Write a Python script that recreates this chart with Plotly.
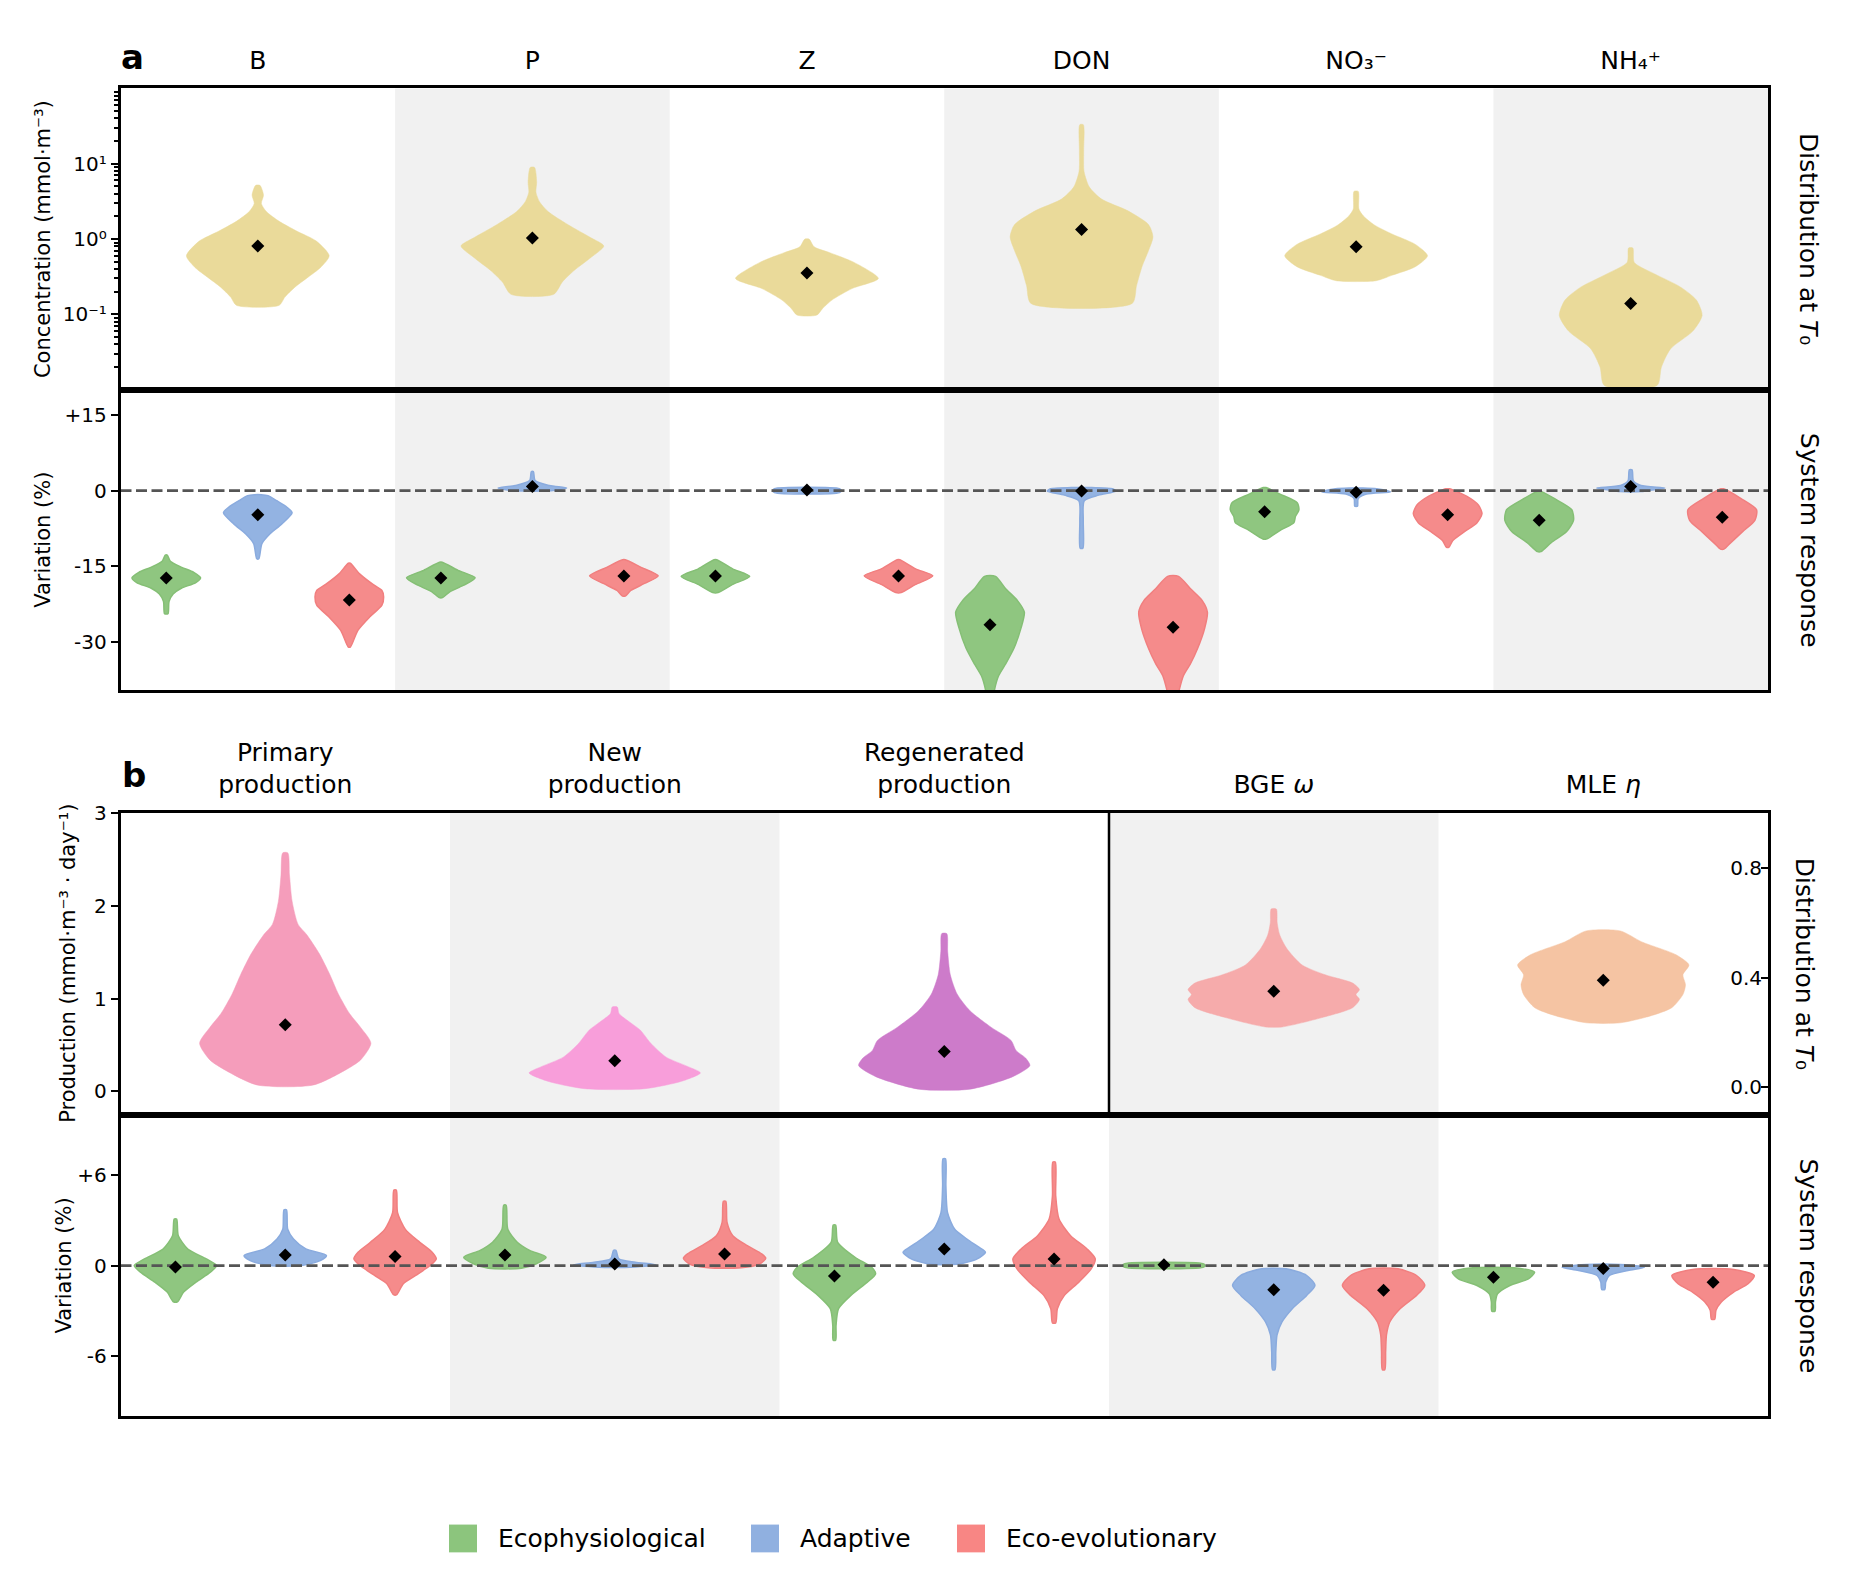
import plotly.graph_objects as go

# ---------------- data ----------------
a_labels = ["B", "P", "Z", "DON", "NO₃⁻", "NH₄⁺"]
b_labels = ["Primary<br>production", "New<br>production", "Regenerated<br>production",
            "BGE <i>ω</i>", "MLE <i>η</i>"]
group_names = ["Ecophysiological", "Adaptive", "Eco-evolutionary"]

# panel a, top: concentration at T0 (value levels, relative half-widths of the density)
conc_levels = [
    [0.132, 0.17, 0.23, 0.31, 0.42, 0.60, 0.94, 1.27, 1.72, 2.32, 2.97, 3.83, 5.17],
    [0.185, 0.27, 0.38, 0.57, 0.81, 1.04, 1.55, 2.32, 3.13, 4.2, 5.7, 8.95],
    [0.098, 0.12, 0.155, 0.22, 0.30, 0.49, 0.66, 0.79, 1.0],
    [0.14, 0.24, 0.44, 0.71, 1.07, 1.55, 2.37, 3.4, 4.9, 7.9, 15, 33],
    [0.28, 0.33, 0.43, 0.60, 0.85, 1.17, 1.55, 2.04, 2.5, 4.3],
    [0.0114, 0.02, 0.035, 0.06, 0.097, 0.155, 0.23, 0.35, 0.49, 0.76],
]
conc_widths = [
    [0.30, 0.38, 0.52, 0.70, 0.88, 1.0, 0.82, 0.55, 0.30, 0.12, 0.05, 0.08, 0.03],
    [0.30, 0.42, 0.58, 0.82, 1.0, 0.82, 0.5, 0.22, 0.1, 0.05, 0.06, 0.03],
    [0.14, 0.22, 0.35, 0.63, 1.0, 0.66, 0.32, 0.1, 0.03],
    [0.71, 0.77, 0.85, 0.94, 1.0, 0.94, 0.65, 0.28, 0.11, 0.035, 0.03, 0.025],
    [0.28, 0.5, 0.83, 1.0, 0.83, 0.5, 0.25, 0.1, 0.04, 0.03],
    [0.37, 0.43, 0.56, 0.87, 1.0, 0.92, 0.7, 0.32, 0.05, 0.03],
]
conc_means = [0.81, 1.03, 0.355, 1.34, 0.79, 0.14]
conc_ticks = [0.1, 1, 10]
conc_ticktext = ["10⁻¹", "10⁰", "10¹"]

# panel a, bottom: variation (%)
a_eco_levels = [
    [-24.4, -22, -20.5, -19.3, -18.3, -17.3, -16.2, -15.2, -14, -12.8],
    [-21.2, -20.1, -18.8, -17.3, -15.8, -14.2],
    [-20.2, -18.6, -17.0, -15.5, -13.7],
    [-42, -39.5, -36.7, -34.4, -31.2, -27.3, -24.1, -21.8, -19.4, -17.0],
    [-9.6, -7.7, -6.4, -5.1, -3.8, -2.4, -0.7, 0.6],
    [-12.1, -10.3, -8.1, -5.9, -3.8, -1.6, -0.1],
]
a_eco_widths = [
    [0.05, 0.08, 0.2, 0.45, 0.85, 1.0, 0.8, 0.45, 0.12, 0.03],
    [0.05, 0.25, 0.65, 1.0, 0.5, 0.04],
    [0.08, 0.5, 1.0, 0.5, 0.04],
    [0.08, 0.13, 0.25, 0.45, 0.7, 0.9, 1.0, 0.8, 0.45, 0.16],
    [0.05, 0.5, 0.85, 0.9, 1.0, 0.95, 0.45, 0.04],
    [0.05, 0.35, 0.8, 1.0, 0.95, 0.45, 0.04],
]
a_eco_means = [-17.3, -17.3, -16.9, -26.6, -4.2, -5.9]

a_adp_levels = [
    [-13.5, -10.5, -8.6, -6.6, -4.4, -3.3, -2.0, -1.0, -0.8],
    [-0.1, 0.0, 0.5, 1.0, 2.0, 3.75],
    [-0.4, 0.0, 0.4],
    [-11.4, -6, -2, -0.9, -0.1, 0.4, 0.6],
    [-3.1, -1.6, -0.7, -0.25, 0.35, 0.5],
    [-0.2, 0.0, 0.5, 1.0, 1.9, 4.1],
]
a_adp_widths = [
    [0.03, 0.12, 0.35, 0.7, 1.0, 0.85, 0.55, 0.3, 0.1],
    [0.3, 0.6, 1.0, 0.5, 0.08, 0.03],
    [0.95, 1.0, 0.95],
    [0.04, 0.05, 0.08, 0.5, 1.0, 0.9, 0.3],
    [0.04, 0.06, 0.3, 1.0, 0.6, 0.2],
    [0.3, 0.5, 1.0, 0.3, 0.08, 0.04],
]
a_adp_means = [-4.8, 0.8, 0.1, -0.1, -0.35, 0.8]

a_evo_levels = [
    [-31, -27.7, -25, -22.7, -21.1, -19.8, -18.4, -16.5, -14.4],
    [-20.9, -19.8, -18.4, -16.9, -15.2, -13.7],
    [-20.2, -18.6, -16.9, -15.5, -13.7],
    [-42, -39.5, -36.7, -34.4, -31.2, -27.3, -24.1, -21.8, -19.4, -17.0],
    [-11.2, -9.9, -8.1, -6.4, -4.6, -2.9, -1.1, 0.35],
    [-11.6, -10.3, -8.1, -5.9, -3.8, -1.6, 0.35],
]
a_evo_widths = [
    [0.03, 0.25, 0.6, 0.95, 1.0, 0.95, 0.65, 0.3, 0.03],
    [0.04, 0.2, 0.6, 1.0, 0.5, 0.04],
    [0.08, 0.5, 1.0, 0.5, 0.04],
    [0.1, 0.18, 0.3, 0.5, 0.72, 0.92, 1.0, 0.85, 0.5, 0.16],
    [0.04, 0.15, 0.5, 0.85, 1.0, 0.9, 0.55, 0.05],
    [0.05, 0.25, 0.6, 0.95, 1.0, 0.55, 0.04],
]
a_evo_means = [-21.7, -16.9, -16.9, -27.1, -4.8, -5.3]

# panel b, top: production (first three, left axis) and efficiencies (last two, right axis)
prod_levels = [
    [0.07, 0.23, 0.34, 0.52, 0.69, 0.84, 1.05, 1.26, 1.48, 1.69, 1.8, 2.05, 2.33, 2.57],
    [0.03, 0.11, 0.2, 0.27, 0.37, 0.52, 0.66, 0.73, 0.84, 0.91],
    [0.025, 0.16, 0.28, 0.36, 0.44, 0.55, 0.69, 0.87, 1.05, 1.26, 1.51, 1.70],
    [0.22, 0.253, 0.29, 0.32, 0.338, 0.356, 0.38, 0.41, 0.446, 0.507, 0.555, 0.60, 0.65],
    [0.235, 0.26, 0.29, 0.338, 0.374, 0.41, 0.446, 0.483, 0.53, 0.57],
]
prod_widths = [
    [0.33, 0.7, 0.88, 1.0, 0.88, 0.75, 0.62, 0.52, 0.4, 0.25, 0.15, 0.08, 0.05, 0.03],
    [0.35, 0.78, 1.0, 0.85, 0.6, 0.42, 0.3, 0.2, 0.05, 0.03],
    [0.3, 0.8, 1.0, 0.95, 0.84, 0.78, 0.55, 0.3, 0.15, 0.07, 0.04, 0.03],
    [0.1, 0.55, 0.92, 1.0, 0.96, 1.0, 0.92, 0.6, 0.33, 0.15, 0.07, 0.04, 0.03],
    [0.2, 0.55, 0.8, 0.93, 0.96, 0.93, 1.0, 0.85, 0.45, 0.2],
]
prod_means = [0.72, 0.33, 0.43, 0.35, 0.39]
prod_colors = ["#f59dbb", "#f89eda", "#cd7bca", "#f6abab", "#f5c4a3"]

# panel b, bottom: variation (%)
b_eco_levels = [
    [-2.4, -1.76, -1.1, -0.44, 0, 0.44, 1.1, 1.98, 3.08],
    [-0.18, 0.1, 0.55, 1.0, 1.54, 2.4, 4.0],
    [-4.95, -3.96, -2.86, -1.98, -1.1, -0.55, -0.1, 0.55, 1.54, 2.68],
    [-0.12, 0.0, 0.12],
    [-3.03, -2.42, -1.87, -1.32, -0.88, -0.44, -0.15],
]
b_eco_widths = [
    [0.05, 0.2, 0.5, 0.85, 1.0, 0.75, 0.3, 0.07, 0.03],
    [0.4, 0.75, 1.0, 0.6, 0.3, 0.07, 0.03],
    [0.03, 0.04, 0.1, 0.4, 0.8, 1.0, 0.9, 0.5, 0.08, 0.03],
    [0.95, 1.0, 0.95],
    [0.04, 0.05, 0.1, 0.4, 0.85, 1.0, 0.5],
]
b_eco_means = [-0.1, 0.7, -0.7, 0.05, -0.77]

b_adp_levels = [
    [0.0, 0.33, 0.66, 1.1, 1.76, 2.4, 3.7],
    [-0.09, 0.05, 0.22, 0.44, 1.0],
    [0.1, 0.44, 0.88, 1.2, 1.76, 2.42, 3.5, 5.27, 7.08],
    [-6.9, -5.7, -4.6, -3.74, -2.86, -1.98, -1.32, -0.66, -0.22],
    [-1.58, -1.1, -0.66, -0.33, -0.11, 0.07],
]
b_adp_widths = [
    [0.4, 0.85, 1.0, 0.5, 0.2, 0.06, 0.03],
    [0.5, 1.0, 0.5, 0.1, 0.03],
    [0.35, 0.8, 1.0, 0.85, 0.55, 0.25, 0.08, 0.04, 0.03],
    [0.03, 0.05, 0.08, 0.2, 0.45, 0.8, 1.0, 0.8, 0.3],
    [0.04, 0.06, 0.15, 0.6, 1.0, 0.4],
]
b_adp_means = [0.7, 0.1, 1.1, -1.6, -0.2]

b_evo_levels = [
    [-1.93, -1.2, -0.66, 0.0, 0.44, 0.88, 1.54, 2.4, 3.5, 5.0],
    [-0.15, 0.1, 0.48, 0.77, 1.32, 1.98, 2.86, 4.26],
    [-3.8, -2.86, -1.98, -1.1, -0.22, 0.44, 1.1, 1.98, 3.08, 4.6, 6.86],
    [-6.9, -5.7, -4.6, -3.74, -2.86, -1.98, -1.32, -0.66, -0.22],
    [-3.56, -2.97, -2.42, -1.76, -1.21, -0.66, -0.26],
]
b_evo_widths = [
    [0.04, 0.2, 0.5, 0.85, 1.0, 0.9, 0.6, 0.25, 0.06, 0.03],
    [0.4, 0.85, 1.0, 0.9, 0.55, 0.2, 0.06, 0.03],
    [0.04, 0.08, 0.25, 0.6, 0.9, 1.0, 0.8, 0.4, 0.12, 0.04, 0.03],
    [0.03, 0.05, 0.07, 0.15, 0.4, 0.8, 1.0, 0.8, 0.35],
    [0.04, 0.07, 0.2, 0.5, 0.85, 1.0, 0.5],
]
b_evo_means = [0.6, 0.77, 0.44, -1.63, -1.1]

# ---------------- styling / layout ----------------
W, H = 1853, 1592
OFF = 8  # default page margin of the html body
FONT = "DejaVu Sans"
YELLOW = "rgb(234,218,154)"
FILLS = ["rgb(143,198,128)", "rgb(147,179,226)", "rgb(245,139,139)"]
EDGES = ["rgb(133,191,117)", "rgb(138,171,222)", "rgb(241,127,127)"]
LEGEND_COLORS = ["rgb(140,197,125)", "rgb(144,176,224)", "rgb(248,134,132)"]
SHADE = "#f1f1f1"
OFFSETS = [-1 / 3, 0.0, 1 / 3]
HALF_BIG = 0.26
HALF_SMALL = 0.125


def px_x(p):
    return (p - OFF) / W


def px_y(p):
    return 1 - (p - OFF) / H


X_DOM = [px_x(120.5), px_x(1768)]
A_TOP = [px_y(380.5), px_y(77)]
A_BOT = [px_y(683), px_y(380.5)]
B_TOP = [px_y(1111), px_y(807)]
B_BOT = [px_y(1415), px_y(1111)]

fig = go.Figure()


def add_violin(center, half, levels, widths, fill, edge, xa, ya, lw):
    xs = [center + half * w for w in widths] + [center - half * w for w in reversed(widths)]
    ys = list(levels) + list(reversed(levels))
    xs.append(xs[0])
    ys.append(ys[0])
    fig.add_trace(go.Scatter(
        x=xs, y=ys, xaxis=xa, yaxis=ya, mode="lines", fill="toself",
        fillcolor=fill, line=dict(color=edge, width=lw, shape="spline", smoothing=0.7),
        hoverinfo="skip", showlegend=False))


def add_means(xs, ys, xa, ya):
    fig.add_trace(go.Scatter(
        x=xs, y=ys, xaxis=xa, yaxis=ya, mode="markers",
        marker=dict(symbol="diamond", size=10, color="black"),
        showlegend=False, hoverinfo="skip"))


def add_zero(xa, ya, ncols):
    fig.add_trace(go.Scatter(
        x=[-0.5, ncols - 0.5], y=[0, 0], xaxis=xa, yaxis=ya, mode="lines",
        line=dict(color="#555555", width=2.7, dash="11px,4.5px"),
        showlegend=False, hoverinfo="skip"))


# panel a top
for i in range(len(a_labels)):
    add_violin(i, HALF_BIG, conc_levels[i], conc_widths[i], YELLOW, YELLOW, "x", "y", 0.5)
add_means(list(range(len(a_labels))), conc_means, "x", "y")

# panel a bottom
a_groups = [(a_eco_levels, a_eco_widths, a_eco_means),
            (a_adp_levels, a_adp_widths, a_adp_means),
            (a_evo_levels, a_evo_widths, a_evo_means)]
for g, (lv, wd, _) in enumerate(a_groups):
    for i in range(len(a_labels)):
        add_violin(i + OFFSETS[g], HALF_SMALL, lv[i], wd[i], FILLS[g], EDGES[g], "x2", "y2", 1.5)
add_zero("x2", "y2", len(a_labels))
for g, (_, _, mn) in enumerate(a_groups):
    add_means([i + OFFSETS[g] for i in range(len(a_labels))], mn, "x2", "y2")

# panel b top
for i in range(len(b_labels)):
    ya = "y3" if i < 3 else "y4"
    add_violin(i, HALF_BIG, prod_levels[i], prod_widths[i], prod_colors[i], prod_colors[i], "x3", ya, 0.5)
add_means([0, 1, 2], prod_means[:3], "x3", "y3")
add_means([3, 4], prod_means[3:], "x3", "y4")

# panel b bottom
b_groups = [(b_eco_levels, b_eco_widths, b_eco_means),
            (b_adp_levels, b_adp_widths, b_adp_means),
            (b_evo_levels, b_evo_widths, b_evo_means)]
for g, (lv, wd, _) in enumerate(b_groups):
    for i in range(len(b_labels)):
        add_violin(i + OFFSETS[g], HALF_SMALL, lv[i], wd[i], FILLS[g], EDGES[g], "x4", "y5", 1.5)
add_zero("x4", "y5", len(b_labels))
for g, (_, _, mn) in enumerate(b_groups):
    add_means([i + OFFSETS[g] for i in range(len(b_labels))], mn, "x4", "y5")

# ---------------- axes ----------------
frame = dict(showline=True, mirror=True, linecolor="black", linewidth=2.5,
             showgrid=False, zeroline=False)
tickfont = dict(family=FONT, size=20, color="black")
hfont = dict(family=FONT, size=25, color="black")


def xaxis(anchor, ncols, labels=None):
    d = dict(domain=X_DOM, anchor=anchor, range=[-0.5, ncols - 0.5], ticks="", **frame)
    if labels is None:
        d["showticklabels"] = False
    else:
        d.update(side="top", tickmode="array", tickvals=list(range(ncols)),
                 ticktext=labels, tickfont=hfont, ticklabelstandoff=7)
    return d


def yaxis(anchor, dom, **kw):
    d = dict(domain=dom, anchor=anchor, ticks="outside", ticklen=7, tickwidth=2,
             tickcolor="black", tickfont=tickfont, **frame)
    d.update(kw)
    return d


minor_vals = []
for dec in [0.01, 0.1, 1, 10]:
    for m in range(2, 10):
        minor_vals.append(m * dec)

fig.update_layout(
    width=W, height=H,
    margin=dict(l=0, r=0, t=0, b=0),
    paper_bgcolor="white", plot_bgcolor="white",
    font=dict(family=FONT, size=20, color="black"),
    showlegend=False,
    xaxis=xaxis("y", len(a_labels), a_labels),
    yaxis=yaxis("x", A_TOP, type="log", range=[-2, 2],
                tickmode="array", tickvals=conc_ticks, ticktext=conc_ticktext,
                minor=dict(tickmode="array", tickvals=minor_vals, ticks="outside",
                           ticklen=4, tickwidth=1.5, tickcolor="black", showgrid=False)),
    xaxis2=xaxis("y2", len(a_labels)),
    yaxis2=yaxis("x2", A_BOT, range=[-39.5, 20], tickmode="array",
                 tickvals=[15, 0, -15, -30], ticktext=["+15", "0", "-15", "-30"]),
    xaxis3=xaxis("y3", len(b_labels), b_labels),
    yaxis3=yaxis("x3", B_TOP, range=[-0.25, 3], tickmode="array",
                 tickvals=[0, 1, 2, 3], ticktext=["0", "1", "2", "3"]),
    yaxis4=dict(overlaying="y3", side="right", anchor="x3", range=[-0.1, 1.0],
                tickmode="array", tickvals=[0.0, 0.4, 0.8], ticktext=["0.0", "0.4", "0.8"],
                ticks="inside", ticklen=7, tickwidth=2, tickcolor="black",
                ticklabelposition="inside", tickfont=tickfont,
                showline=False, showgrid=False, zeroline=False),
    xaxis4=xaxis("y5", len(b_labels)),
    yaxis5=yaxis("x4", B_BOT, range=[-10, 10], tickmode="array",
                 tickvals=[6, 0, -6], ticktext=["+6", "0", "-6"]),
)

# ---------------- shapes ----------------
shapes = []
for i in range(1, len(a_labels), 2):
    for xr, yr in [("x", "y domain"), ("x2", "y2 domain")]:
        shapes.append(dict(type="rect", xref=xr, yref=yr, x0=i - 0.5, x1=i + 0.5, y0=0, y1=1,
                           fillcolor=SHADE, line=dict(width=0), layer="below"))
for i in range(1, len(b_labels), 2):
    for xr, yr in [("x3", "y3 domain"), ("x4", "y5 domain")]:
        shapes.append(dict(type="rect", xref=xr, yref=yr, x0=i - 0.5, x1=i + 0.5, y0=0, y1=1,
                           fillcolor=SHADE, line=dict(width=0), layer="below"))
shapes.append(dict(type="line", xref="x3", yref="y3 domain", x0=2.5, x1=2.5, y0=0, y1=1,
                   line=dict(color="black", width=2.5), layer="above"))

# legend patches
legend_x = [449, 751, 957]
legend_text_x = [496, 798, 1004]
for k in range(3):
    shapes.append(dict(type="rect", xref="paper", yref="paper",
                       x0=px_x(legend_x[k]), x1=px_x(legend_x[k] + 28),
                       y0=px_y(1552), y1=px_y(1524),
                       fillcolor=LEGEND_COLORS[k], line=dict(width=0)))
fig.update_layout(shapes=shapes)

# ---------------- annotations ----------------
ann = []
ann.append(dict(x=px_x(132), y=px_y(45), xref="paper", yref="paper", text="<b>a</b>",
                showarrow=False, font=dict(family=FONT, size=34, color="black"),
                xanchor="center", yanchor="middle"))
ann.append(dict(x=px_x(134), y=px_y(769), xref="paper", yref="paper", text="<b>b</b>",
                showarrow=False, font=dict(family=FONT, size=34, color="black"),
                xanchor="center", yanchor="middle"))

tfont = dict(family=FONT, size=21, color="black")
left_titles = [
    (43, (77 + 380.5) / 2, "Concentration (mmol·m⁻³)"),
    (43, (380.5 + 683) / 2, "Variation (%)"),
    (68, (807 + 1111) / 2, "Production (mmol·m⁻³ · day⁻¹)"),
    (64, (1111 + 1415) / 2, "Variation (%)"),
]
for xp, yp, t in left_titles:
    ann.append(dict(x=px_x(xp), y=px_y(yp), xref="paper", yref="paper", text=t,
                    textangle=-90, showarrow=False, font=tfont,
                    xanchor="center", yanchor="middle"))

right_titles = [
    (1809, (77 + 380.5) / 2, "Distribution at <i>T</i>₀"),
    (1809, (380.5 + 683) / 2, "System response"),
    (1804, (807 + 1111) / 2, "Distribution at <i>T</i>₀"),
    (1808, (1111 + 1415) / 2, "System response"),
]
for xp, yp, t in right_titles:
    ann.append(dict(x=px_x(xp), y=px_y(yp), xref="paper", yref="paper", text=t,
                    textangle=90, showarrow=False, font=hfont,
                    xanchor="center", yanchor="middle"))

for k in range(3):
    ann.append(dict(x=px_x(legend_text_x[k]), y=px_y(1538), xref="paper", yref="paper",
                    text=group_names[k], showarrow=False, font=hfont,
                    xanchor="left", yanchor="middle"))

fig.update_layout(annotations=ann)

fig.write_html("out.html")
